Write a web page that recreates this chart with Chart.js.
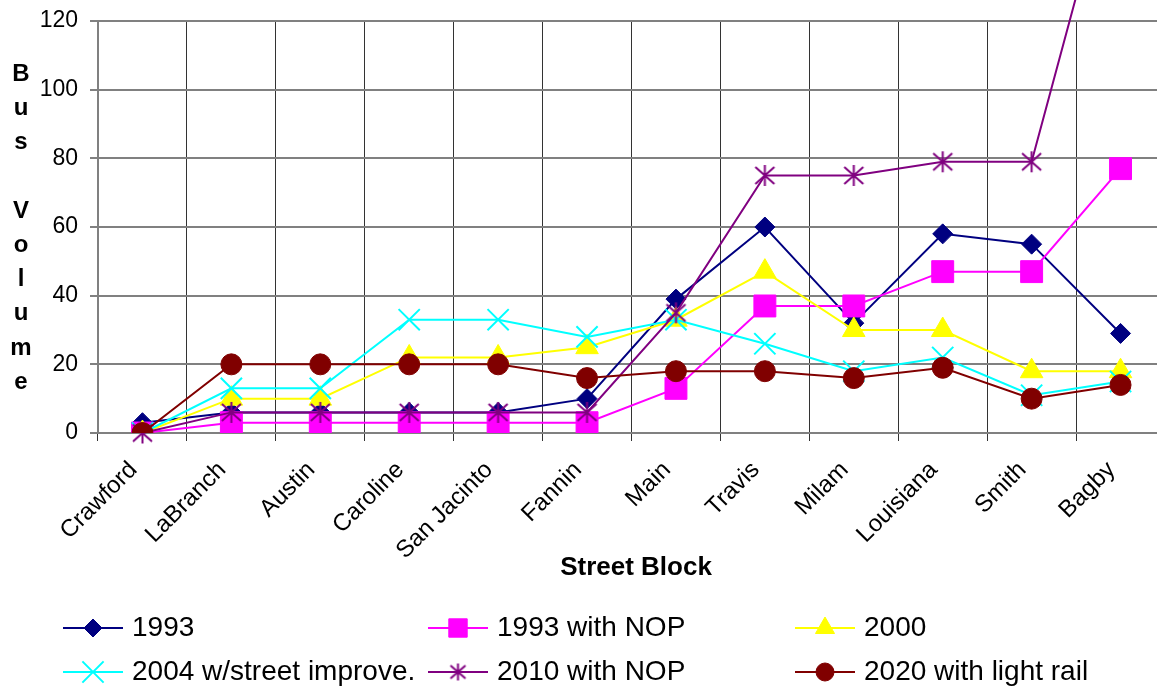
<!DOCTYPE html>
<html>
<head>
<meta charset="utf-8">
<script src="https://cdn.jsdelivr.net/npm/chart.js@4.4.1/dist/chart.umd.min.js"></script>
<style>
html, body { margin: 0; padding: 0; background: #fff; overflow: hidden; }
canvas { display: block; }
</style>
</head>
<body>
<canvas id="chart1" width="1182" height="690"></canvas>
<script>
// DATA
const streets = ['Crawford', 'LaBranch', 'Austin', 'Caroline', 'San Jacinto', 'Fannin', 'Main', 'Travis', 'Milam', 'Louisiana', 'Smith', 'Bagby'];
const yTicks = [0, 20, 40, 60, 80, 100, 120];
const seriesNames = ['1993', '1993 with NOP', '2000', '2004 w/street improve.', '2010 with NOP', '2020 with light rail'];
const v1993 = [3, 6, 6, 6, 6, 10, 39, 60, 32, 58, 55, 29];
const v1993nop = [0, 3, 3, 3, 3, 3, 13, 37, 37, 47, 47, 77];
const v2000 = [0, 10, 10, 22, 22, 25, 33, 47, 30, 30, 18, 18];
const v2004 = [0, 13, 13, 33, 33, 28, 33, 26, 18, 22, 11, 15];
const v2010nop = [0, 6, 6, 6, 6, 6, 35, 75, 75, 79, 79, 175];
const v2020 = [0, 20, 20, 20, 20, 16, 18, 18, 16, 19, 10, 14];
const yTitle = 'Bus Volume';
const xTitle = 'Street Block';

const FONT = '"Liberation Sans", Arial, sans-serif';

// asterisk marker (vertical bar + X)
function asterisk(color, size) {
    let c = document.createElement('canvas');
    c.width = size; c.height = size;
    let g = c.getContext('2d');
    g.strokeStyle = color;
    g.lineWidth = 2;
    g.beginPath();
    g.moveTo(size / 2, 1); g.lineTo(size / 2, size - 1);
    g.moveTo(2, 3); g.lineTo(size - 2, size - 3);
    g.moveTo(size - 2, 3); g.lineTo(2, size - 3);
    g.stroke();
    return c;
}

function series(i, data, color, style, radius, legendStyle, legendRadius, extra) {
    return Object.assign({
        label: seriesNames[i],
        data: data,
        borderColor: color,
        backgroundColor: color,
        pointBackgroundColor: color,
        pointBorderColor: color,
        pointStyle: style,
        pointRadius: radius,
        pointHoverRadius: radius,
        pointBorderWidth: 1,
        borderWidth: 2,
        tension: 0,
        fill: false,
        order: 6 - i,
        legendStyle: legendStyle,
        legendRadius: legendRadius
    }, extra || {});
}

const datasets = [
    series(0, v1993, '#000080', 'rectRot', 10, 'rectRot', 9),
    series(1, v1993nop, '#FF00FF', 'rect', 15.5, 'rect', 13),
    series(2, v2000, '#FFFF00', 'triangle', 13, 'triangle', 11),
    series(3, v2004, '#00FFFF', 'crossRot', 15, 'crossRot', 15, { pointBorderWidth: 2 }),
    series(4, v2010nop, '#800080', asterisk('#800080', 23), 11, asterisk('#800080', 19), 9, { clip: false }),
    series(5, v2020, '#800000', 'circle', 10.5, 'circle', 9)
];

// axis titles: stacked letters on the left, street block under the labels
const titlesPlugin = {
    id: 'titles',
    afterDraw(chart) {
        const ctx = chart.ctx;
        ctx.save();
        ctx.fillStyle = '#000';
        ctx.font = 'bold 24px ' + FONT;
        ctx.textAlign = 'center';
        ctx.textBaseline = 'alphabetic';
        let chars = yTitle.split('');
        for (let i = 0; i < chars.length; i++) {
            if (chars[i] !== ' ') ctx.fillText(chars[i], 21, 81 + i * 34.2);
        }
        ctx.font = 'bold 26px ' + FONT;
        ctx.textBaseline = 'middle';
        ctx.fillText(xTitle, 636, 568);
        ctx.restore();
    }
};

// 3-column legend
const legendPlugin = {
    id: 'gridLegend',
    afterDraw(chart) {
        const ctx = chart.ctx;
        const cols = [63, 428, 795];
        const rows = [628, 672];
        ctx.save();
        chart.data.datasets.forEach((ds, i) => {
            let x = cols[i % 3];
            let y = rows[Math.floor(i / 3)];
            ctx.strokeStyle = ds.borderColor;
            ctx.lineWidth = 2;
            ctx.beginPath();
            ctx.moveTo(x, y);
            ctx.lineTo(x + 60, y);
            ctx.stroke();
            ctx.fillStyle = ds.backgroundColor;
            ctx.strokeStyle = ds.borderColor;
            ctx.lineWidth = ds.pointBorderWidth;
            Chart.helpers.drawPoint(ctx, {
                pointStyle: ds.legendStyle,
                radius: ds.legendRadius,
                rotation: 0,
                borderWidth: ds.pointBorderWidth
            }, x + 30, y);
            ctx.fillStyle = '#000';
            ctx.font = '28px ' + FONT;
            ctx.textAlign = 'left';
            ctx.textBaseline = 'middle';
            ctx.fillText(ds.label, x + 69, y);
        });
        ctx.restore();
    }
};

const ctx1 = document.getElementById('chart1').getContext('2d');
const myChart = new Chart(ctx1, {
    type: 'line',
    data: {
        labels: streets,
        datasets: datasets
    },
    options: {
        responsive: false,
        animation: false,
        events: [],
        layout: { padding: { top: 21, right: 6, bottom: 105, left: 0 } },
        plugins: {
            legend: { display: false },
            tooltip: { enabled: false }
        },
        scales: {
            x: {
                offset: true,
                grid: { offset: true, color: '#333', lineWidth: 1, tickLength: 8 },
                border: { color: '#808080', width: 2 },
                ticks: {
                    autoSkip: false,
                    minRotation: 45,
                    maxRotation: 45,
                    labelOffset: -9,
                    padding: 15,
                    color: '#000',
                    font: { family: FONT, size: 24 }
                },
                afterFit(scale) { scale.height = 152; }
            },
            y: {
                min: yTicks[0],
                max: yTicks[yTicks.length - 1],
                afterBuildTicks(scale) { scale.ticks = yTicks.map(v => ({ value: v })); },
                grid: { color: '#808080', lineWidth: 2, tickLength: 8 },
                border: { color: '#808080', width: 2 },
                ticks: {
                    padding: 12,
                    color: '#000',
                    font: { family: FONT, size: 23 }
                },
                afterFit(scale) {
                    scale.width = 98;
                    scale.paddingTop = 0;
                    scale.paddingBottom = 0;
                }
            }
        }
    },
    plugins: [titlesPlugin, legendPlugin]
});
</script>
</body>
</html>
